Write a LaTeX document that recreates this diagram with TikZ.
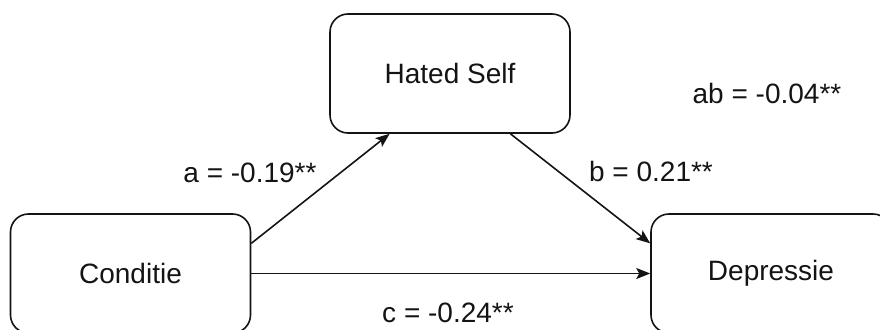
\documentclass[tikz,border=0pt]{standalone}
\usepackage{fontspec}
\setmainfont{Liberation Sans}
\usetikzlibrary{arrows.meta, positioning, calc}
\definecolor{inkgrey}{RGB}{20, 20, 20}
\tikzset{
  varbox/.style={rectangle, rounded corners=18pt, draw=inkgrey, line width=1.6pt,
              minimum width=240pt, minimum height=119pt, align=center, inner sep=0pt,
              font=\fontsize{28}{32}\selectfont, text=inkgrey},
  effect/.style={-{Stealth[length=14pt, width=11pt, inset=3pt]}, line width=1.6pt, draw=inkgrey},
  coef/.style={font=\fontsize{28}{32}\selectfont, text=inkgrey, anchor=base, inner sep=0pt},
}

\begin{document}
\begin{tikzpicture}[x=1pt, y=-1pt]
    \useasboundingbox (0,0) rectangle (880,329);

    \node[varbox] (med) at (450,73.5) {Hated Self};
    \node[varbox] (cond) at (130.5,273.5) {Conditie};
    \node[varbox] (dep) at (771,273.5) {Depressie};

    \draw[effect] ($(cond.north east)!0.25!(cond.south east)$) -- ($(med.south west)!0.25!(med.south east)$);
    \draw[effect] ($(med.south west)!0.75!(med.south east)$) -- ($(dep.north west)!0.25!(dep.south west)$);
    \draw[effect] (cond) -- (dep);

    \node[coef] (pa) at (250,182) {a = -0.19**};
    \node[coef] (pb) at (651,181) {b = 0.21**};
    \node[coef] (pc) at (448,322) {c = -0.24**};
    \node[coef] (pab) at (767,103) {ab = -0.04**};
\end{tikzpicture}
\end{document}
